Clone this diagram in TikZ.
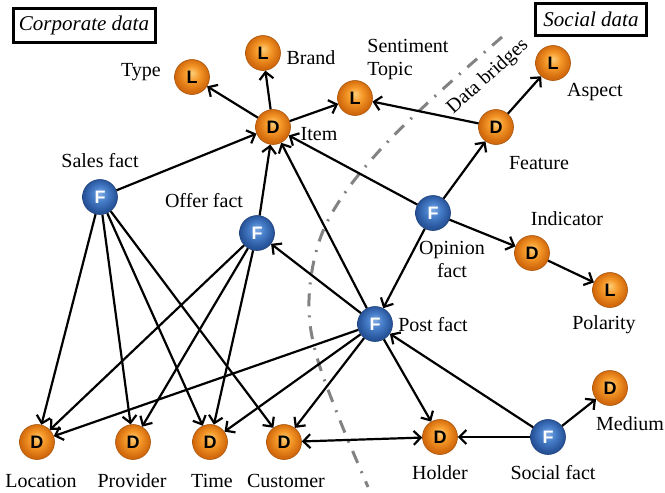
\documentclass[tikz,border=0pt]{standalone}
\usepackage{fontspec}
\setmainfont{Liberation Serif}
\newfontfamily\ballfont{Liberation Sans}
\usetikzlibrary{arrows.meta}

% ball colours
\definecolor{ocenter}{RGB}{252,205,120}
\definecolor{omid}{RGB}{245,152,40}
\definecolor{orim}{RGB}{210,105,12}
\definecolor{bcenter}{RGB}{125,170,228}
\definecolor{bmid}{RGB}{70,125,200}
\definecolor{brim}{RGB}{38,82,152}
\definecolor{bridgegray}{RGB}{130,130,130}

\pgfdeclareradialshading{orangeball}{\pgfpoint{0bp}{6bp}}{%
  color(0bp)=(ocenter); color(11bp)=(omid); color(24bp)=(orim); color(40bp)=(orim)}
\pgfdeclareradialshading{blueball}{\pgfpoint{0bp}{6bp}}{%
  color(0bp)=(bcenter); color(11bp)=(bmid); color(24bp)=(brim); color(40bp)=(brim)}

\tikzset{
  ball/.style={circle, minimum size=17.5pt, inner sep=0pt,
    font=\ballfont\bfseries\fontsize{9}{9}\selectfont},
  dball/.style={ball, shading=orangeball, draw=orim!80!black, line width=0.3pt, text=black},
  fball/.style={ball, shading=blueball, draw=brim!80!black, line width=0.3pt, text=white},
  lbl/.style={font=\fontsize{10}{11.5}\selectfont, inner sep=0pt},
  link/.style={line width=1.1pt, -{Straight Barb[length=3.5pt,width=7pt]}},
  twoway/.style={line width=1.1pt, {Straight Barb[length=3.5pt,width=7pt]}-{Straight Barb[length=3.5pt,width=7pt]}},
  bridge/.style={draw=bridgegray, line width=1.5pt,
    dash pattern=on 6.5pt off 4.5pt on 1pt off 4.5pt},
  databox/.style={draw, line width=1.5pt, fill=white, inner sep=0pt,
    font=\itshape\fontsize{10.5}{12}\selectfont}
}

\begin{document}
\begin{tikzpicture}[x=0.5pt,y=-0.5pt]
\useasboundingbox (0,0) rectangle (665,493);

% boundary between corporate and social data
\draw[bridge] plot[smooth, tension=0.6] coordinates
  {(502,37) (433,98) (380,150) (340,200) (318,245) (309,300) (315,350) (337,413) (368,487)};
\node[lbl, rotate=42] (bridgelbl) at (488,77) {Data bridges};

% section titles
\node[databox, minimum width=71pt, minimum height=17pt] (corp) at (84,25) {Corporate data};
\node[databox, minimum width=55.5pt, minimum height=16pt] (social) at (591,19) {Social data};

% levels and dimensions
\node[dball] (type)   at (192,77)  {L};
\node[dball] (brand)  at (263,53)  {L};
\node[dball] (item)   at (273,127) {D};
\node[dball] (topic)  at (355,98)  {L};
\node[dball] (aspect) at (553,63)  {L};
\node[dball] (feature) at (496,127) {D};
\node[dball] (indic)  at (532,253) {D};
\node[dball] (polar)  at (610,290) {L};
\node[dball] (medium) at (610,388) {D};
\node[dball] (loc)    at (37,442)  {D};
\node[dball] (prov)   at (133,442) {D};
\node[dball] (time)   at (210,442) {D};
\node[dball] (cust)   at (284,442) {D};
\node[dball] (holder) at (440,437) {D};

% facts
\node[fball] (sales)   at (100,197) {F};
\node[fball] (offer)   at (257,233) {F};
\node[fball] (opinion) at (433,213) {F};
\node[fball] (post)    at (375,324) {F};
\node[fball] (sfact)   at (548,437) {F};

% labels
\node[lbl] (typelbl)  at (141,72)  {Type};
\node[lbl] (brandlbl) at (311,58)  {Brand};
\node[lbl, align=left, anchor=west] (topiclbl) at (367,60) {Sentiment\\Topic};
\node[lbl] (itemlbl)  at (319,134) {Item};
\node[lbl] (aspectlbl) at (595,92) {Aspect};
\node[lbl] (featlbl)  at (539,163) {Feature};
\node[lbl] (saleslbl) at (100,161) {Sales fact};
\node[lbl] (offerlbl) at (204,201) {Offer fact};
\node[lbl, align=center] (opinionlbl) at (452,259) {Opinion\\fact};
\node[lbl] (indiclbl) at (567,219) {Indicator};
\node[lbl] (polarlbl) at (604,325) {Polarity};
\node[lbl] (postlbl)  at (433,325) {Post fact};
\node[lbl] (mediumlbl) at (630,424) {Medium};
\node[lbl] (loclbl)   at (41,481)  {Location};
\node[lbl] (provlbl)  at (132,481) {Provider};
\node[lbl] (timelbl)  at (212,481) {Time};
\node[lbl] (custlbl)  at (286,481) {Customer};
\node[lbl] (holderlbl) at (440,473) {Holder};
\node[lbl] (sfactlbl) at (553,473) {Social fact};

% hierarchy links
\draw[link] (item) -- (type);
\draw[link] (item) -- (brand);
\draw[link] (item) -- (topic);
\draw[link] (feature) -- (topic);
\draw[link] (feature) -- (aspect);
\draw[link] (indic) -- (polar);

% fact to dimension links
\draw[link] (sales) -- (item);
\draw[link] (offer) -- (item);
\draw[link] (post) -- (item);
\draw[link] (opinion) -- (item);
\draw[link] (opinion) -- (feature);
\draw[link] (opinion) -- (indic);
\draw[link] (opinion) -- (post);
\draw[link] (post) -- (offer);
\draw[link] (sfact) -- (post);
\draw[link] (sfact) -- (holder);
\draw[link] (sfact) -- (medium);
\draw[link] (post) -- (holder);

\draw[link] (sales) -- (loc);
\draw[link] (sales) -- (prov);
\draw[link] (sales) -- (time);
\draw[link] (sales) -- (cust);
\draw[link] (offer) -- (loc);
\draw[link] (offer) -- (prov);
\draw[link] (offer) -- (time);
\draw[link] (post) -- (loc);
\draw[link] (post) -- (time);
\draw[link] (post) -- (cust);

\draw[twoway] (cust) -- (holder);
\end{tikzpicture}
\end{document}
